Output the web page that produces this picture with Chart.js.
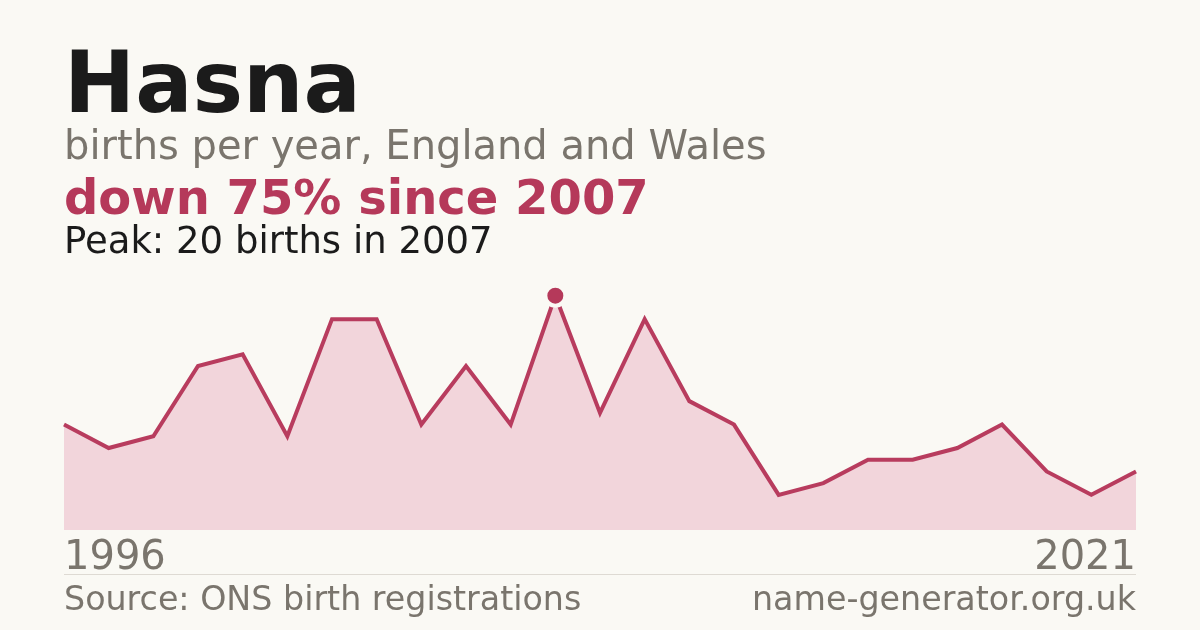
<!DOCTYPE html>
<html>
<head>
<meta charset="utf-8">
<script src="https://cdn.jsdelivr.net/npm/chart.js@4"></script>
<style>
  html, body { margin: 0; padding: 0; background: #faf9f4; }
  body { width: 1200px; height: 630px; position: relative; overflow: hidden; font-family: "DejaVu Sans", sans-serif; }
  .t { position: absolute; line-height: 1; white-space: nowrap; }
  #wrap { position: absolute; left: 0; top: 0; width: 1200px; height: 630px; }
  #sep { position: absolute; left: 64px; width: 1072px; top: 574px; height: 1px; background: #dedad3; }
</style>
</head>
<body>
<div id="wrap"><canvas id="c" width="1200" height="630"></canvas></div>
<div class="t" id="title" style="left:64px; top:40px; font-size:85px; font-weight:bold; color:#1b1b1b;"></div>
<div class="t" id="sub" style="left:64px; top:125px; font-size:40px; color:#7a756d;"></div>
<div class="t" id="trend" style="left:64px; top:173px; font-size:48px; font-weight:bold; color:#b5395a;"></div>
<div class="t" id="peak" style="left:64px; top:222px; font-size:37px; color:#1b1b1b;"></div>
<div class="t" id="xfirst" style="left:64px; top:535px; font-size:40px; color:#7a756d;"></div>
<div class="t" id="xlast" style="right:64px; top:535px; font-size:40px; color:#7a756d;"></div>
<div id="sep"></div>
<div class="t" id="src" style="left:64px; top:582px; font-size:33.3px; color:#7a756d;"></div>
<div class="t" id="site" style="right:64px; top:582px; font-size:33.3px; color:#7a756d;"></div>
<script>
const nameText = "Hasna";
const subtitleText = "births per year, England and Wales";
const sourceText = "Source: ONS birth registrations";
const siteText = "name-generator.org.uk";
const years = [1996,1997,1998,1999,2000,2001,2002,2003,2004,2005,2006,2007,2008,2009,2010,2011,2012,2013,2014,2015,2016,2017,2018,2019,2021];
const births = [9,7,8,14,15,8,18,18,9,14,9,20,10,18,11,9,3,4,6,6,7,9,5,3,5];

const peakVal = Math.max(...births);
const peakIdx = births.indexOf(peakVal);
const lastVal = births[births.length - 1];
const pct = Math.round((peakVal - lastVal) / peakVal * 100);

document.getElementById('title').textContent = nameText;
document.getElementById('sub').textContent = subtitleText;
document.getElementById('trend').textContent = `down ${pct}% since ${years[peakIdx]}`;
document.getElementById('peak').textContent = `Peak: ${peakVal} births in ${years[peakIdx]}`;
document.getElementById('xfirst').textContent = years[0];
document.getElementById('xlast').textContent = years[years.length - 1];
document.getElementById('src').textContent = sourceText;
document.getElementById('site').textContent = siteText;

new Chart(document.getElementById('c'), {
  type: 'line',
  data: {
    labels: years.map(String),
    datasets: [{
      data: births,
      borderColor: '#b83c5e',
      borderWidth: 4,
      backgroundColor: '#f2d5db',
      fill: 'origin',
      tension: 0,
      pointRadius: ctx => ctx.dataIndex === peakIdx ? 10 : 0,
      pointHoverRadius: ctx => ctx.dataIndex === peakIdx ? 10 : 0,
      pointBackgroundColor: '#b5395a',
      pointBorderColor: '#faf9f4',
      pointBorderWidth: 4
    }]
  },
  options: {
    responsive: false,
    animation: false,
    devicePixelRatio: 1,
    layout: { padding: { left: 64, right: 64, top: 284, bottom: 100 } },
    plugins: { legend: { display: false }, tooltip: { enabled: false } },
    scales: {
      x: { display: false, offset: false },
      y: { display: false, min: 0, max: 21 }
    },
    elements: { line: { borderJoinStyle: 'miter' } }
  }
});
</script>
</body>
</html>
